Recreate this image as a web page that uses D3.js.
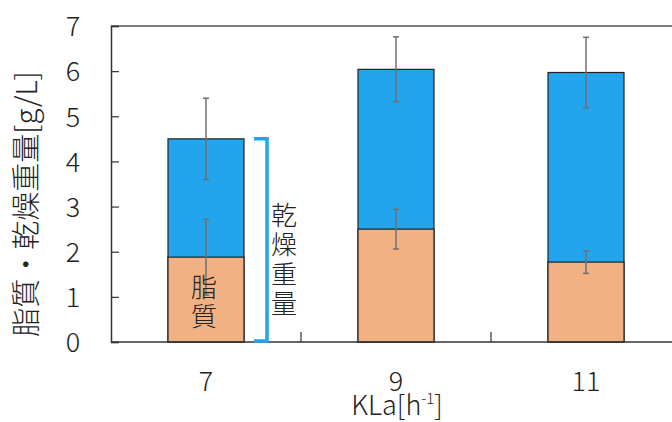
<!DOCTYPE html>
<html>
<head>
<meta charset="utf-8">
<script src="https://cdn.jsdelivr.net/npm/d3@7"></script>
<style>
  body { margin: 0; background: #fff; }
  text { font-family: 'Noto Sans CJK JP', 'Noto Sans', sans-serif; font-weight: 300; fill: #222; }
</style>
</head>
<body>
<div id="chart"></div>
<script>
const categories = ['7', '9', '11']
const dryWeight = [4.5, 6.04, 5.97]
const dryErr = [0.9, 0.72, 0.78]
const lipid = [1.88, 2.5, 1.77]
const lipidErr = [0.84, 0.44, 0.25]
const yTicks = [0, 1, 2, 3, 4, 5, 6, 7]

const margin = { top: 26, left: 111, right: -9, bottom: 80 }
const width = 672 - margin.left - margin.right
const height = 422 - margin.top - margin.bottom

const svg = d3
  .select('#chart')
  .append('svg')
  .attr('width', 672)
  .attr('height', 422)

const g = svg
  .append('g')
  .attr('transform', `translate(${margin.left},${margin.top})`)

const xScale = d3.scaleBand().domain(categories).range([0, width]).padding(0)
const yScale = d3.scaleLinear().domain([0, 7]).range([height, 0])
const barW = xScale.bandwidth() * 0.4

const data = categories.map((c, i) => ({
  cat: c,
  dry: dryWeight[i],
  dryErr: dryErr[i],
  lipid: lipid[i],
  lipidErr: lipidErr[i]
}))

const blue = '#22a5ec'
const orange = '#f2b183'
const errColor = '#707070'

// top frame line
g.append('line')
  .attr('x1', 0).attr('x2', width)
  .attr('y1', 0).attr('y2', 0)
  .attr('stroke', '#555').attr('stroke-width', 1.5)

// bars: blue dry weight behind, orange lipid in front
g.selectAll('.dry-bar')
  .data(data)
  .enter()
  .append('rect')
  .attr('class', 'dry-bar')
  .attr('x', d => xScale(d.cat) + (xScale.bandwidth() - barW) / 2)
  .attr('y', d => yScale(d.dry))
  .attr('width', barW)
  .attr('height', d => yScale(0) - yScale(d.dry))
  .attr('fill', blue)
  .attr('stroke', '#222')
  .attr('stroke-width', 1.2)

g.selectAll('.lipid-bar')
  .data(data)
  .enter()
  .append('rect')
  .attr('class', 'lipid-bar')
  .attr('x', d => xScale(d.cat) + (xScale.bandwidth() - barW) / 2)
  .attr('y', d => yScale(d.lipid))
  .attr('width', barW)
  .attr('height', d => yScale(0) - yScale(d.lipid))
  .attr('fill', orange)
  .attr('stroke', '#222')
  .attr('stroke-width', 1.2)

// error bars
function errorBars(cls, val, err) {
  const eg = g.selectAll('.' + cls)
    .data(data)
    .enter()
    .append('g')
    .attr('class', cls)
    .attr('transform', d => `translate(${xScale(d.cat) + xScale.bandwidth() / 2},0)`)
    .attr('stroke', errColor)
    .attr('stroke-width', 1.5)
  eg.append('line')
    .attr('y1', d => yScale(d[val] + d[err]))
    .attr('y2', d => yScale(d[val] - d[err]))
  eg.append('line')
    .attr('x1', -3).attr('x2', 3)
    .attr('y1', d => yScale(d[val] + d[err]))
    .attr('y2', d => yScale(d[val] + d[err]))
  eg.append('line')
    .attr('x1', -3).attr('x2', 3)
    .attr('y1', d => yScale(d[val] - d[err]))
    .attr('y2', d => yScale(d[val] - d[err]))
}
errorBars('dry-err', 'dry', 'dryErr')
errorBars('lipid-err', 'lipid', 'lipidErr')

// y axis
const yAxis = g.append('g')
  .call(d3.axisLeft(yScale).tickValues(yTicks).tickFormat(d3.format('d')).tickSize(-8))
yAxis.select('.domain').attr('stroke', '#333').attr('stroke-width', 1.5)
yAxis.selectAll('.tick line').attr('stroke', '#333').attr('stroke-width', 1.2)
yAxis.selectAll('.tick text')
  .attr('font-size', 27)
  .attr('text-anchor', 'middle')
  .attr('x', -38)
  .attr('dy', '0.36em')

// x axis: ticks between categories
const xAxis = g.append('g').attr('transform', `translate(0,${height})`)
xAxis.append('line')
  .attr('x1', 0).attr('x2', width)
  .attr('stroke', '#333').attr('stroke-width', 1.5)
xAxis.selectAll('.sep')
  .data(categories.slice(1))
  .enter()
  .append('line')
  .attr('x1', d => xScale(d)).attr('x2', d => xScale(d))
  .attr('y1', 0).attr('y2', -10)
  .attr('stroke', '#333').attr('stroke-width', 1.2)
xAxis.selectAll('.cat-label')
  .data(categories)
  .enter()
  .append('text')
  .attr('x', d => xScale(d) + xScale.bandwidth() / 2)
  .attr('y', 49)
  .attr('text-anchor', 'middle')
  .attr('font-size', 27)
  .text(d => d)

// x title
const xt = svg.append('text')
  .attr('x', 397)
  .attr('y', 415)
  .attr('text-anchor', 'middle')
  .attr('font-size', 27)
xt.append('tspan').text('KLa[h')
xt.append('tspan').attr('font-size', 15).attr('dy', -11).text('-1')
xt.append('tspan').attr('dy', 11).text(']')

// y title
svg.append('text')
  .attr('transform', 'translate(37,204) rotate(-90)')
  .attr('text-anchor', 'middle')
  .attr('font-size', 29)
  .text('脂質・乾燥重量[g/L]')

// bracket for dry weight of first bar
const b0 = data[0]
const bx = xScale(b0.cat) + xScale.bandwidth() / 2 + barW / 2
g.append('path')
  .attr('d', `M${bx + 10},${yScale(b0.dry)} H${bx + 23} V${yScale(0) - 1} H${bx + 10}`)
  .attr('fill', 'none')
  .attr('stroke', blue)
  .attr('stroke-width', 3.5)

// vertical annotation texts
const dryLabel = ['乾', '燥', '重', '量']
g.selectAll('.dry-label')
  .data(dryLabel)
  .enter()
  .append('text')
  .attr('x', bx + 40)
  .attr('y', (d, i) => yScale(b0.dry) + 86 + i * 29.5)
  .attr('text-anchor', 'middle')
  .attr('font-size', 26)
  .text(d => d)

const lipidLabel = ['脂', '質']
g.selectAll('.lipid-label')
  .data(lipidLabel)
  .enter()
  .append('text')
  .attr('x', xScale(b0.cat) + xScale.bandwidth() / 2 - 2)
  .attr('y', (d, i) => yScale(b0.lipid) + 40 + i * 29)
  .attr('text-anchor', 'middle')
  .attr('font-size', 26)
  .text(d => d)
</script>
</body>
</html>
